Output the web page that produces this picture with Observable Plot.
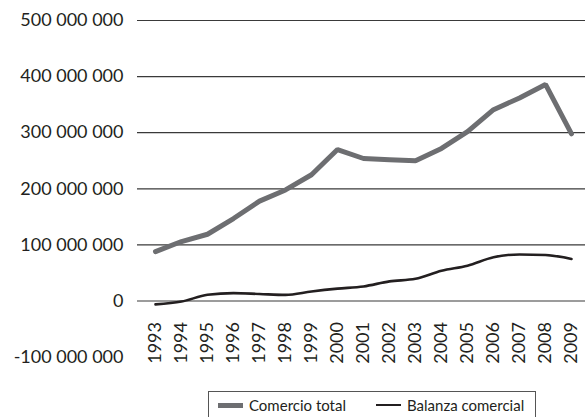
<!DOCTYPE html>
<html>
<head>
<meta charset="utf-8">
<script src="https://cdn.jsdelivr.net/npm/d3@7"></script>
<script src="https://cdn.jsdelivr.net/npm/@observablehq/plot@0.6"></script>
<style>
  body { margin: 0; background: #fff; font-family: Lato, "Open Sans", sans-serif; font-weight: 400; }
  #wrap { position: relative; width: 585px; height: 417px; overflow: hidden; }
  #legend { position: absolute; left: 208px; top: 391px; width: 328px; height: 34px; border: 1px solid #555; box-sizing: border-box;
            font-size: 15px; color: #231f20; }
  .item { position: absolute; top: 4px; display: flex; align-items: center; white-space: nowrap; }
  .sw { display: inline-block; width: 25px; margin-right: 6px; }
</style>
</head>
<body>
<div id="wrap">
  <div id="chart"></div>
  <div id="legend"></div>
</div>
<script>
const years = ["1993","1994","1995","1996","1997","1998","1999","2000","2001","2002","2003","2004","2005","2006","2007","2008","2009"];
const comercioTotal = [88e6, 106e6, 119e6, 147e6, 178e6, 198e6, 225e6, 270e6, 254e6, 252e6, 250e6, 272e6, 302e6, 341e6, 362e6, 386e6, 298e6];
const balanzaComercial = [-6e6, -1e6, 11e6, 14e6, 12.5e6, 11e6, 17e6, 22e6, 26e6, 35e6, 39.5e6, 54e6, 63e6, 78e6, 83e6, 82e6, 75e6];
const yTicks = [-100e6, 0, 100e6, 200e6, 300e6, 400e6, 500e6];
const gridTicks = [0, 100e6, 200e6, 300e6, 400e6, 500e6];
const seriesNames = ["Comercio total", "Balanza comercial"];
const seriesColors = ["#6d6e71", "#231f20"];
const seriesWidths = [5, 2.6];

const locale = d3.formatLocale({decimal: ",", thousands: " ", grouping: [3], currency: ["", ""], minus: "-"});
const fmt = locale.format(",");

const rows = [];
years.forEach((y, i) => {
  rows.push({year: y, value: comercioTotal[i], serie: seriesNames[0]});
  rows.push({year: y, value: balanzaComercial[i], serie: seriesNames[1]});
});

const chart = Plot.plot({
  width: 585,
  height: 390,
  marginLeft: 137,
  marginRight: 0,
  marginTop: 20,
  marginBottom: 89.5,
  style: {fontFamily: "Lato, 'Open Sans', sans-serif", color: "#231f20", background: "transparent"},
  x: {type: "point", domain: years, range: [151, 574], padding: 0, label: null},
  y: {domain: [-100e6, 500e6], range: [356.6, 20], label: null},
  marks: [
    Plot.ruleY(gridTicks, {stroke: "#3a3a3a", strokeWidth: 1.2}),
    Plot.axisY(yTicks, {tickSize: 0, tickPadding: 14, tickFormat: fmt, fontSize: 18, fill: "#231f20", label: null}),
    Plot.axisX({anchor: "bottom", tickSize: 0, tickPadding: 21, tickRotate: -90, fontSize: 18, fill: "#231f20", label: null}),
    Plot.line(rows.filter(d => d.serie === seriesNames[0]), {x: "year", y: "value", stroke: seriesColors[0], strokeWidth: seriesWidths[0], strokeLinejoin: "miter"}),
    Plot.line(rows.filter(d => d.serie === seriesNames[1]), {x: "year", y: "value", stroke: seriesColors[1], strokeWidth: seriesWidths[1], curve: "monotone-x"})
  ]
});
document.getElementById("chart").appendChild(chart);

const legend = document.getElementById("legend");
const lefts = [9, 167];
seriesNames.forEach((n, i) => {
  const it = document.createElement("div");
  it.className = "item";
  it.style.left = lefts[i] + "px";
  const sw = document.createElement("span");
  sw.className = "sw";
  sw.style.height = seriesWidths[i] + "px";
  sw.style.background = seriesColors[i];
  it.appendChild(sw);
  it.appendChild(document.createTextNode(n));
  legend.appendChild(it);
});
</script>
</body>
</html>
